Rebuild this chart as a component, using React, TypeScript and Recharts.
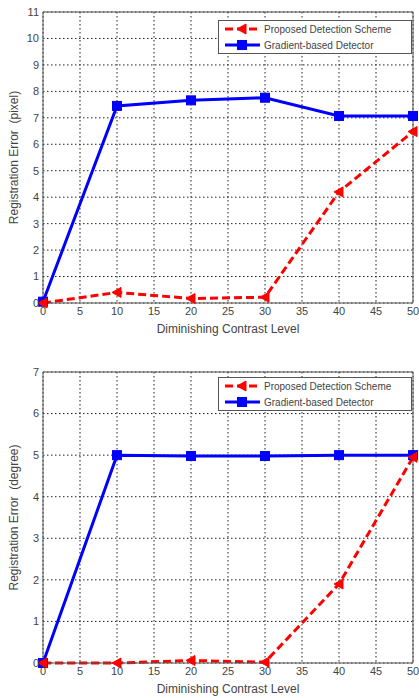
import { LineChart, Line, XAxis, YAxis, CartesianGrid, ReferenceLine, Legend } from "recharts";

const LEVELS = [0, 10, 20, 30, 40, 50];
const X_TICKS = [0, 5, 10, 15, 20, 25, 30, 35, 40, 45, 50];

const PIXEL_PROPOSED = [0.0, 0.4, 0.17, 0.22, 4.2, 6.48];
const PIXEL_GRADIENT = [0.05, 7.45, 7.66, 7.76, 7.07, 7.07];
const PIXEL_TICKS = [0, 1, 2, 3, 4, 5, 6, 7, 8, 9, 10, 11];

const DEGREE_PROPOSED = [0.0, 0.0, 0.06, 0.02, 1.9, 4.95];
const DEGREE_GRADIENT = [0.0, 5.0, 4.98, 4.98, 5.0, 5.0];
const DEGREE_TICKS = [0, 1, 2, 3, 4, 5, 6, 7];

const RED = "#ff0000";
const BLUE = "#0000ff";
const AXIS = "#555";
const TEXT = "#444";
const FONT = "'Liberation Sans', Arial, sans-serif";

const Square = ({ cx, cy }: any) =>
  cx == null ? null : <rect x={cx - 4.5} y={cy - 4.5} width={9} height={9} fill={BLUE} stroke={BLUE} />;

const LeftTriangle = ({ cx, cy }: any) =>
  cx == null ? null : (
    <path d={`M${cx - 5},${cy} L${cx + 4},${cy - 5} L${cx + 4},${cy + 5} Z`} fill={RED} stroke={RED} strokeWidth={1} />
  );

const LegendBox = () => (
  <svg width={194} height={34} style={{ display: "block" }}>
    <rect x={0.5} y={0.5} width={193} height={33} fill="#fff" stroke={AXIS} />
    <line x1={7} y1={9} x2={42} y2={9} stroke={RED} strokeWidth={3} strokeDasharray="8 4" />
    <LeftTriangle cx={24} cy={9} />
    <text x={46} y={12.5} fontSize={10} fill={TEXT} fontFamily={FONT}>Proposed Detection Scheme</text>
    <line x1={7} y1={25} x2={42} y2={25} stroke={BLUE} strokeWidth={3} />
    <Square cx={24} cy={25} />
    <text x={46} y={28.5} fontSize={10} fill={TEXT} fontFamily={FONT}>Gradient-based Detector</text>
  </svg>
);

interface PanelProps {
  proposed: number[];
  gradient: number[];
  yTicks: number[];
  yLabel: string;
  height: number;
  top: number;
  xHeight: number;
  xLabelOffset: number;
  legendTop: number;
}

const Panel = ({ proposed, gradient, yTicks, yLabel, height, top, xHeight, xLabelOffset, legendTop }: PanelProps) => {
  const data = LEVELS.map((x, i) => ({ x, proposed: proposed[i], gradient: gradient[i] }));
  const yMax = yTicks[yTicks.length - 1];
  return (
    <LineChart width={419} height={height} data={data} margin={{ top, right: 6, left: 0, bottom: 0 }}>
      <CartesianGrid stroke="#222" strokeDasharray="1.5 2.5" />
      <XAxis
        dataKey="x"
        type="number"
        domain={[0, 50]}
        ticks={X_TICKS}
        interval={0}
        height={xHeight}
        stroke={AXIS}
        tickLine={false}
        tickSize={2}
        tickMargin={2}
        tick={{ fill: TEXT, fontSize: 11, fontFamily: FONT }}
        label={{ value: "Diminishing Contrast Level", position: "insideBottom", offset: xLabelOffset, fill: TEXT, fontSize: 12, fontFamily: FONT }}
      />
      <YAxis
        type="number"
        domain={[0, yMax]}
        ticks={yTicks}
        interval={0}
        width={43}
        stroke={AXIS}
        tickLine={false}
        tickSize={2}
        tickMargin={2}
        tick={{ fill: TEXT, fontSize: 11, fontFamily: FONT }}
        label={{ value: yLabel, angle: -90, position: "insideLeft", offset: 14, fill: TEXT, fontSize: 12, fontFamily: FONT, style: { textAnchor: "middle" } }}
      />
      <ReferenceLine y={yMax} stroke={AXIS} />
      <ReferenceLine x={50} stroke={AXIS} />
      <Line dataKey="gradient" stroke={BLUE} strokeWidth={3} dot={<Square />} isAnimationActive={false} />
      <Line dataKey="proposed" stroke={RED} strokeWidth={3} strokeDasharray="8 4" dot={<LeftTriangle />} isAnimationActive={false} />
      <Legend
        layout="vertical"
        align="center"
        verticalAlign="middle"
        content={() => <LegendBox />}
        wrapperStyle={{ top: legendTop, left: 218, width: 194, height: 34 }}
      />
    </LineChart>
  );
};

export default function App() {
  return (
    <div style={{ position: "absolute", top: 0, left: 0, width: 419, height: 698, background: "#fff" }}>
      <Panel
        proposed={PIXEL_PROPOSED}
        gradient={PIXEL_GRADIENT}
        yTicks={PIXEL_TICKS}
        yLabel={"Registration Error \u00a0(pixel)"}
        height={340}
        top={12}
        xHeight={37}
        xLabelOffset={7}
        legendTop={20}
      />
      <Panel
        proposed={DEGREE_PROPOSED}
        gradient={DEGREE_GRADIENT}
        yTicks={DEGREE_TICKS}
        yLabel={"Registration Error \u00a0(degree)"}
        height={358}
        top={32}
        xHeight={35}
        xLabelOffset={5}
        legendTop={37}
      />
    </div>
  );
}
